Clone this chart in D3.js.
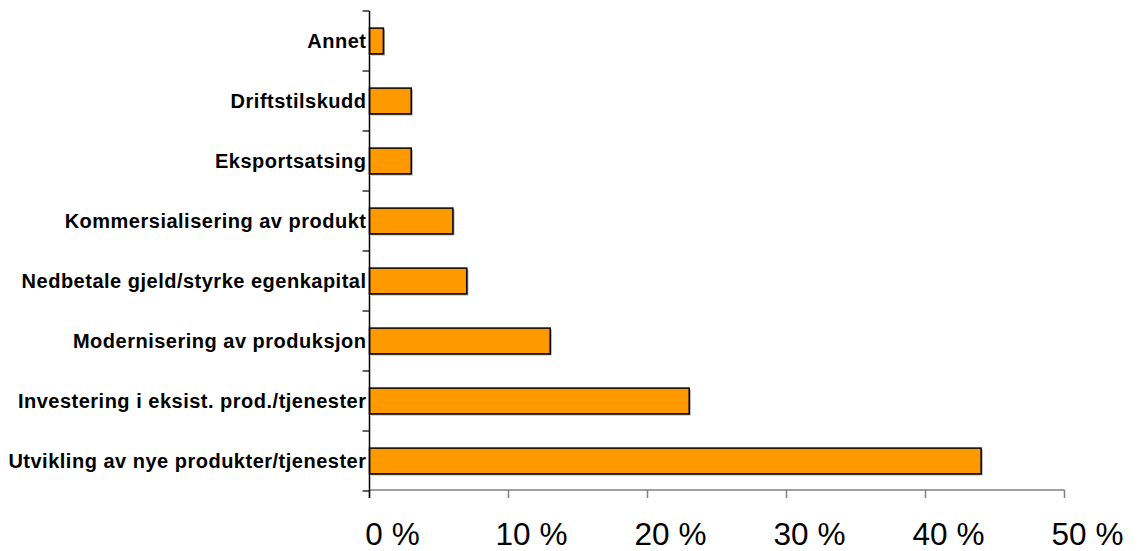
<!DOCTYPE html>
<html>
<head>
<meta charset="utf-8">
<script src="https://cdn.jsdelivr.net/npm/d3@7"></script>
<style>
  html, body { margin: 0; padding: 0; background: #fff; }
  svg { display: block; }
</style>
</head>
<body>
<svg id="chart" width="1139" height="551"></svg>
<script>
const categories = [
  "Annet",
  "Driftstilskudd",
  "Eksportsatsing",
  "Kommersialisering av produkt",
  "Nedbetale gjeld/styrke egenkapital",
  "Modernisering av produksjon",
  "Investering i eksist. prod./tjenester",
  "Utvikling av nye produkter/tjenester"
];
const values = [1, 3, 3, 6, 7, 13, 23, 44];
const xTicks = [0, 10, 20, 30, 40, 50];

const svg = d3.select("#chart");
const x = d3.scaleLinear().domain([0, 50]).range([369.5, 1064.5]);
const y = d3.scaleBand().domain(categories).range([11, 491]).paddingInner(0.57).paddingOuter(0.285);

// bars shadow
svg.append("g").selectAll("rect").data(categories).join("rect")
  .attr("x", x(0) + 1.5)
  .attr("y", d => y(d) + 1.5)
  .attr("width", (d, i) => x(values[i]) - x(0))
  .attr("height", y.bandwidth())
  .attr("fill", "#9a9a9a");

// bars
svg.append("g").selectAll("rect").data(categories).join("rect")
  .attr("x", x(0))
  .attr("y", d => y(d))
  .attr("width", (d, i) => x(values[i]) - x(0))
  .attr("height", y.bandwidth())
  .attr("fill", "#FF9900")
  .attr("stroke", "#000")
  .attr("stroke-width", 1.5);

// x axis
const xAxis = svg.append("g").attr("transform", "translate(0,490)");
xAxis.append("line").attr("x1", x(0)).attr("x2", x(50)).attr("y1", 0).attr("y2", 0)
  .attr("stroke", "#808080").attr("stroke-width", 1.5);
xAxis.selectAll("line.tick").data(xTicks).join("line").attr("class", "tick")
  .attr("x1", d => x(d)).attr("x2", d => x(d)).attr("y1", 0).attr("y2", 8)
  .attr("stroke", "#808080").attr("stroke-width", 1.5);
xAxis.selectAll("text").data(xTicks).join("text")
  .attr("x", d => x(d) + 23)
  .attr("y", 55)
  .attr("text-anchor", "middle")
  .attr("font-family", "Liberation Sans, Arial, sans-serif")
  .attr("font-size", 31.5)
  .attr("fill", "#000")
  .text(d => d + " %");

// y axis
const yAxis = svg.append("g");
const bounds = d3.range(categories.length + 1).map(i => 11 + i * y.step());
yAxis.append("line").attr("x1", x(0)).attr("x2", x(0)).attr("y1", 11).attr("y2", 498)
  .attr("stroke", "#000").attr("stroke-width", 1.5);
yAxis.selectAll("line.tick").data(bounds).join("line").attr("class", "tick")
  .attr("x1", x(0) - 7).attr("x2", x(0)).attr("y1", d => d).attr("y2", d => d)
  .attr("stroke", "#000").attr("stroke-width", 1.2);
yAxis.selectAll("text").data(categories).join("text")
  .attr("x", 366.5)
  .attr("y", d => y(d) + y.bandwidth() / 2 + 6.8)
  .attr("text-anchor", "end")
  .attr("font-family", "Liberation Sans, Arial, sans-serif")
  .attr("font-weight", "bold")
  .attr("font-size", 20)
  .attr("letter-spacing", "0.5px")
  .attr("fill", "#000")
  .text(d => d);
</script>
</body>
</html>
